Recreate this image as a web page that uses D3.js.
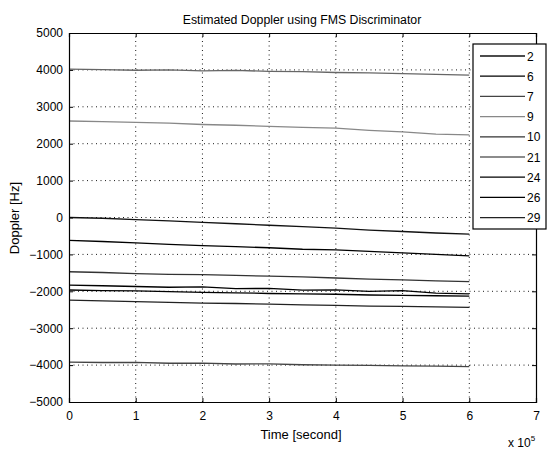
<!DOCTYPE html>
<html>
<head>
<meta charset="utf-8">
<script src="https://cdn.jsdelivr.net/npm/d3@7"></script>
<style>
  body { margin: 0; background: #fff; }
  svg text { font-family: "Liberation Sans", Arial, sans-serif; fill: #000; }
</style>
</head>
<body>
<svg id="chart" width="547" height="450"></svg>
<script>
/* =====
   DATA (time in units of 1e5 s, Doppler in Hz)
==== */
const times = [0, 0.5, 1, 1.5, 2, 2.5, 3, 3.5, 4, 4.5, 5, 5.5, 6];
const prnLabels = ["2", "6", "7", "9", "10", "21", "24", "26", "29"];
const prn2  = [0, -20, -60, -90, -130, -170, -210, -250, -290, -340, -380, -420, -450];
const prn6  = [-620, -650, -690, -730, -760, -790, -820, -860, -880, -920, -960, -1000, -1040];
const prn7  = [-3920, -3930, -3925, -3950, -3945, -3970, -3965, -3990, -4000, -4005, -4020, -4030, -4040];
const prn9  = [2615, 2600, 2580, 2560, 2520, 2500, 2470, 2440, 2420, 2360, 2320, 2260, 2240];
const prn10 = [-1470, -1490, -1520, -1540, -1550, -1570, -1590, -1610, -1640, -1670, -1690, -1720, -1740];
const prn21 = [4020, 4010, 3990, 4000, 3975, 3985, 3960, 3955, 3930, 3920, 3900, 3880, 3860];
const prn24 = [-1830, -1850, -1870, -1890, -1880, -1930, -1920, -1970, -1960, -2000, -1980, -2050, -2070];
const prn26 = [-1965, -1980, -1990, -2010, -2030, -2040, -2060, -2070, -2080, -2100, -2110, -2120, -2130];
const prn29 = [-2240, -2260, -2280, -2300, -2320, -2330, -2350, -2370, -2380, -2400, -2410, -2420, -2435];
const xTicks = [0, 1, 2, 3, 4, 5, 6, 7];
const yTicks = [-5000, -4000, -3000, -2000, -1000, 0, 1000, 2000, 3000, 4000, 5000];

const seriesValues = [prn2, prn6, prn7, prn9, prn10, prn21, prn24, prn26, prn29];
const seriesColors = ["#111", "#000", "#444", "#888", "#333", "#666", "#000", "#000", "#222"];

/* =====
   SETUP
==== */
const svg = d3.select("#chart");
const margin = { top: 33, right: 11, bottom: 48, left: 69 };
const width = 547 - margin.left - margin.right;
const height = 450 - margin.top - margin.bottom;

const x = d3.scaleLinear().domain([0, 7]).range([margin.left, margin.left + width]);
const y = d3.scaleLinear().domain([-5000, 5000]).range([margin.top + height, margin.top]);

// grid
const grid = svg.append("g").attr("stroke", "#000").attr("stroke-dasharray", "1,3.5").attr("stroke-width", 0.9);
xTicks.slice(1, -1).forEach(t => {
    grid.append("line").attr("x1", x(t)).attr("x2", x(t)).attr("y1", y(-5000)).attr("y2", y(5000));
});
yTicks.slice(1, -1).forEach(t => {
    grid.append("line").attr("x1", x(0)).attr("x2", x(7)).attr("y1", y(t)).attr("y2", y(t));
});

// lines
const line = d3.line().x((d, i) => x(times[i])).y(d => y(d));
seriesValues.forEach((vals, i) => {
    svg.append("path")
        .attr("d", line(vals))
        .attr("fill", "none")
        .attr("stroke", seriesColors[i])
        .attr("stroke-width", 1.3);
});

// axes (inward ticks, box)
const tk = 4;
svg.append("g").attr("transform", `translate(0,${y(-5000)})`)
    .call(d3.axisBottom(x).tickValues(xTicks).tickSize(-tk).tickPadding(9).tickFormat(d3.format("d")));
svg.append("g").attr("transform", `translate(0,${y(5000)})`)
    .call(d3.axisTop(x).tickValues(xTicks).tickSize(-tk).tickFormat(""));
svg.append("g").attr("transform", `translate(${x(0)},0)`)
    .call(d3.axisLeft(y).tickValues(yTicks).tickSize(-tk).tickPadding(6).tickFormat(d3.format("d")));
svg.append("g").attr("transform", `translate(${x(7)},0)`)
    .call(d3.axisRight(y).tickValues(yTicks).tickSize(-tk).tickFormat(""));
svg.selectAll(".domain").attr("stroke", "#000").attr("stroke-width", 1.2);
svg.selectAll(".tick line").attr("stroke", "#000");
svg.selectAll(".tick text").style("font-size", "12px").style("font-family", "'Liberation Sans', Arial, sans-serif");

// labels
svg.append("text").attr("x", 302).attr("y", 24).attr("text-anchor", "middle")
    .style("font-size", "12.3px").text("Estimated Doppler using FMS Discriminator");
svg.append("text").attr("x", 301).attr("y", 439).attr("text-anchor", "middle")
    .style("font-size", "13px").text("Time [second]");
svg.append("text").attr("transform", "translate(19,218) rotate(-90)").attr("text-anchor", "middle")
    .style("font-size", "13px").text("Doppler [Hz]");
const exp = svg.append("text").attr("x", 508).attr("y", 447).style("font-size", "12px");
exp.append("tspan").text("x 10");
exp.append("tspan").attr("dy", -6).style("font-size", "8px").text("5");

// legend
const lg = svg.append("g").attr("transform", "translate(473,44)");
lg.append("rect").attr("width", 73).attr("height", 185)
    .attr("fill", "#fff").attr("stroke", "#000").attr("stroke-width", 1.2);
prnLabels.forEach((lab, i) => {
    const ly = 12 + i * 20.2;
    lg.append("line").attr("x1", 7).attr("x2", 52).attr("y1", ly).attr("y2", ly)
        .attr("stroke", seriesColors[i]).attr("stroke-width", 1.3);
    lg.append("text").attr("x", 54).attr("y", ly + 4.5).style("font-size", "12px").text(lab);
});
</script>
</body>
</html>
